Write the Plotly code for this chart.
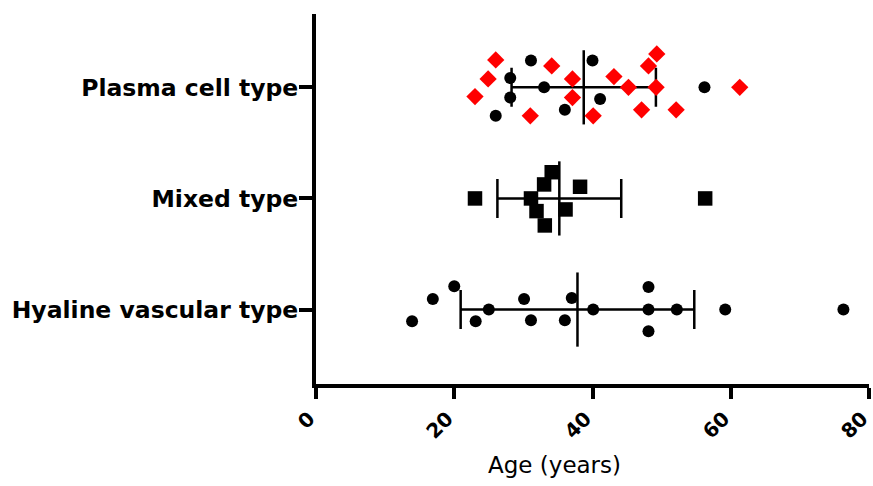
import numpy as np
import plotly.graph_objects as go

categories = ["Hyaline vascular type", "Mixed type", "Plasma cell type"]

# Plasma cell type: red diamonds and black circles (age, vertical jitter)
plasma_red_age = [26.0, 24.9, 23.0, 34.1, 37.1, 37.1, 31.0, 40.1, 43.1, 45.2, 49.3, 48.1, 49.2, 47.1, 52.1, 61.3]
plasma_red_jit = [0.247, 0.076, -0.083, 0.193, 0.076, -0.092, -0.256, -0.256, 0.097, 0.0, 0.301, 0.193, 0.0, -0.202, -0.202, 0.0]
plasma_blk_age = [31.1, 40.0, 28.1, 33.0, 28.1, 41.1, 26.0, 36.0, 56.2]
plasma_blk_jit = [0.241, 0.241, 0.083, 0.0, -0.092, -0.106, -0.256, -0.202, 0.0]

# Mixed type: black squares
mixed_age = [23.0, 34.1, 33.0, 38.2, 31.1, 31.9, 36.1, 33.1, 56.3]
mixed_jit = [0.0, 0.236, 0.126, 0.105, 0.0, -0.114, -0.099, -0.243, 0.0]

# Hyaline vascular type: black circles
hyal_age = [13.9, 16.9, 20.0, 23.1, 25.0, 30.1, 31.1, 36.0, 37.0, 40.1, 48.1, 48.1, 48.1, 52.2, 59.2, 76.3]
hyal_jit = [-0.105, 0.096, 0.209, -0.105, 0.0, 0.096, -0.096, -0.096, 0.105, 0.0, 0.204, 0.0, -0.195, 0.0, 0.0, 0.0]

x_ticks = [0, 20, 40, 60, 80]

groups = [
    (0, hyal_age),
    (1, mixed_age),
    (2, plasma_red_age + plasma_blk_age),
]

fig = go.Figure()

means = [float(np.mean(v)) for _, v in groups]
sds = [float(np.std(v, ddof=1)) for _, v in groups]
ys = [g for g, _ in groups]

# mean +/- SD error bars
fig.add_trace(go.Scatter(
    x=means, y=ys, mode="markers",
    marker=dict(symbol="line-ns", size=53, color="black", line=dict(color="black", width=2.5)),
    error_x=dict(type="data", array=sds, symmetric=True, color="black", thickness=2.5, width=19.5),
    showlegend=False, hoverinfo="skip",
))

def jit(base, offs):
    return [base + o for o in offs]

fig.add_trace(go.Scatter(
    x=hyal_age, y=jit(0, hyal_jit), mode="markers",
    marker=dict(symbol="circle", size=12, color="black", line=dict(width=0)),
    showlegend=False,
))
fig.add_trace(go.Scatter(
    x=mixed_age, y=jit(1, mixed_jit), mode="markers",
    marker=dict(symbol="square", size=14.5, color="black", line=dict(width=0)),
    showlegend=False,
))
fig.add_trace(go.Scatter(
    x=plasma_blk_age, y=jit(2, plasma_blk_jit), mode="markers",
    marker=dict(symbol="circle", size=12, color="black", line=dict(width=0)),
    showlegend=False,
))
fig.add_trace(go.Scatter(
    x=plasma_red_age, y=jit(2, plasma_red_jit), mode="markers",
    marker=dict(symbol="diamond", size=13.3, color="#ff0000", line=dict(width=0)),
    showlegend=False,
))

fig.update_layout(
    width=873, height=486,
    margin=dict(l=316, r=4, t=14, b=101.5, autoexpand=False),
    plot_bgcolor="white", paper_bgcolor="white",
    font=dict(family="DejaVu Sans", color="black"),
    xaxis=dict(
        range=[0, 80], tickvals=x_ticks, ticktext=[str(t) for t in x_ticks],
        showgrid=False, zeroline=False, showline=True, linecolor="black", linewidth=4,
        ticks="outside", ticklen=11, tickwidth=4, tickcolor="black",
        tickangle=-45, ticklabeloverflow="allow", automargin=False,
        ticklabelshift=-7,
        tickfont=dict(family="DejaVu Sans", size=20, weight="bold", color="black"),
    ),
    yaxis=dict(
        range=[-0.67, 2.66], tickvals=[0, 1, 2], ticktext=categories,
        showgrid=False, zeroline=False, showline=True, linecolor="black", linewidth=4,
        ticks="outside", ticklen=13, tickwidth=4, tickcolor="black",
        ticklabelstandoff=-4, automargin=False,
        tickfont=dict(family="DejaVu Sans", size=23.5, weight="bold", color="black"),
    ),
    annotations=[dict(
        text="Age (years)", xref="paper", yref="paper", x=0.432, y=-0.22,
        xanchor="center", yanchor="middle", showarrow=False,
        font=dict(family="DejaVu Sans", size=23, color="black"),
    )],
)

fig.write_html("out.html")
